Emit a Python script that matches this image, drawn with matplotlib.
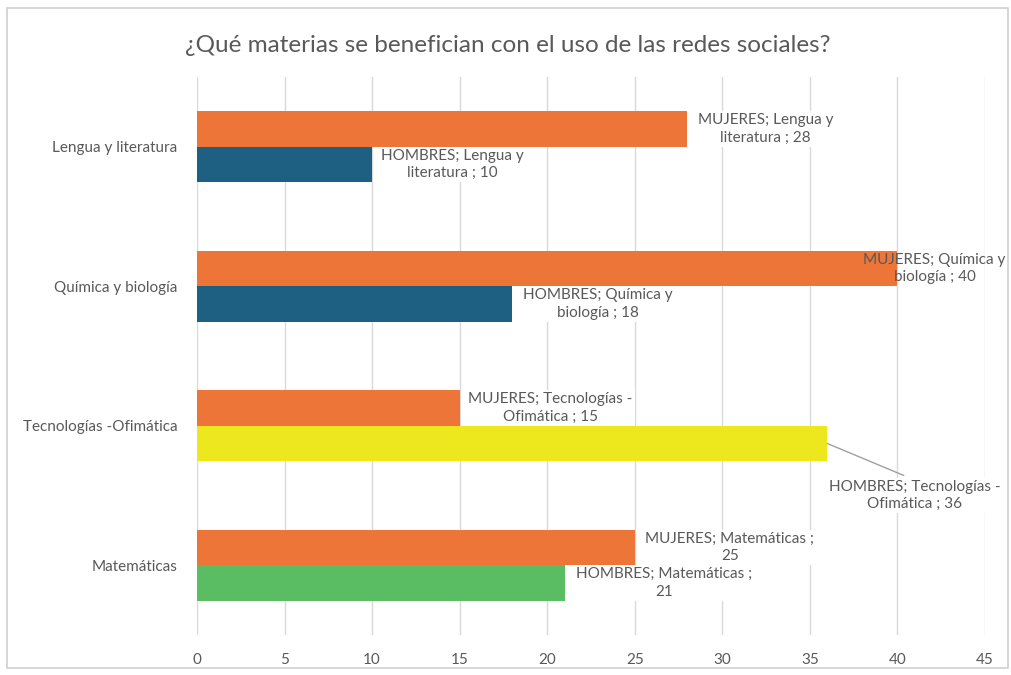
import matplotlib.pyplot as plt
from matplotlib.patches import Rectangle
import numpy as np

materias = ["Lengua y literatura", "Química y biología", "Tecnologías -Ofimática", "Matemáticas"]
mujeres = [28, 40, 15, 25]
hombres = [10, 18, 36, 21]
etiquetas_m = ["MUJERES; Lengua y\nliteratura ; 28", "MUJERES; Química y\nbiología ; 40",
               "MUJERES; Tecnologías -\nOfimática ; 15", "MUJERES; Matemáticas ;\n25"]
etiquetas_h = ["HOMBRES; Lengua y\nliteratura ; 10", "HOMBRES; Química y\nbiología ; 18",
               "HOMBRES; Tecnologías -\nOfimática ; 36", "HOMBRES; Matemáticas ;\n21"]
xticks = [0, 5, 10, 15, 20, 25, 30, 35, 40, 45]

naranja = "#ED7538"
col_h = ["#1D6082", "#1D6082", "#EDE81E", "#5BBD63"]
gris = "#595959"

# desplazamientos de las etiquetas en pixeles (centro del texto respecto al final de la barra)
off_m = [(78, 0), (37, 0), (91, 0), (95, 0)]
off_h = [(80, 0), (86, 0), (87, -52), (99, 0)]

plt.rcParams["font.family"] = ["Lato", "DejaVu Sans"]

fig = plt.figure(figsize=(10.11, 6.75), dpi=100)
ax = fig.add_axes([197 / 1011, 40 / 675, 788 / 1011, 558 / 675])

fig.patches.append(Rectangle((7 / 1011, 7 / 675), 1001 / 1011, 660 / 675, transform=fig.transFigure,
                             fill=False, edgecolor="#D0D0D0", linewidth=1.2))

y = np.arange(len(materias))[::-1]
h = 0.255
ax.barh(y + h / 2, mujeres, height=h, color=naranja, zorder=2)
ax.barh(y - h / 2, hombres, height=h, color=col_h, zorder=2)

bbox = dict(boxstyle="square,pad=0.15", facecolor="white", edgecolor="none")
for i in range(len(materias)):
    # la etiqueta de Química se pinta encima de la barra, sin fondo
    b = None if i == 1 else bbox
    ax.annotate(etiquetas_m[i], xy=(mujeres[i], y[i] + h / 2), xytext=off_m[i],
                textcoords="offset pixels", ha="center", va="center", fontsize=11,
                color=gris, linespacing=1.3, bbox=b, zorder=4)
    if i == 2:
        arrow = dict(arrowstyle="-", color="#A0A0A0", lw=1, relpos=(0.5, 1), shrinkA=4, shrinkB=0)
    else:
        arrow = None
    ax.annotate(etiquetas_h[i], xy=(hombres[i], y[i] - h / 2), xytext=off_h[i],
                textcoords="offset pixels", ha="center", va="center", fontsize=11,
                color=gris, linespacing=1.3, bbox=bbox, arrowprops=arrow, zorder=4)

ax.set_xlim(0, 45)
ax.set_ylim(-0.5, 3.5)
ax.set_xticks(xticks)
ax.set_yticks(y)
ax.set_yticklabels(materias)
ax.grid(axis="x", color="#D9D9D9", linewidth=1, zorder=0)
ax.set_axisbelow(True)
for s in ax.spines.values():
    s.set_visible(False)
ax.tick_params(axis="both", length=0, labelsize=11, labelcolor=gris)
ax.tick_params(axis="y", pad=14)
ax.tick_params(axis="x", pad=13)

fig.text(508 / 1011, 1 - 45 / 675, "¿Qué materias se benefician con el uso de las redes sociales?",
         ha="center", va="center", fontsize=17.5, color=gris)

fig.savefig("out.png", dpi=100)
